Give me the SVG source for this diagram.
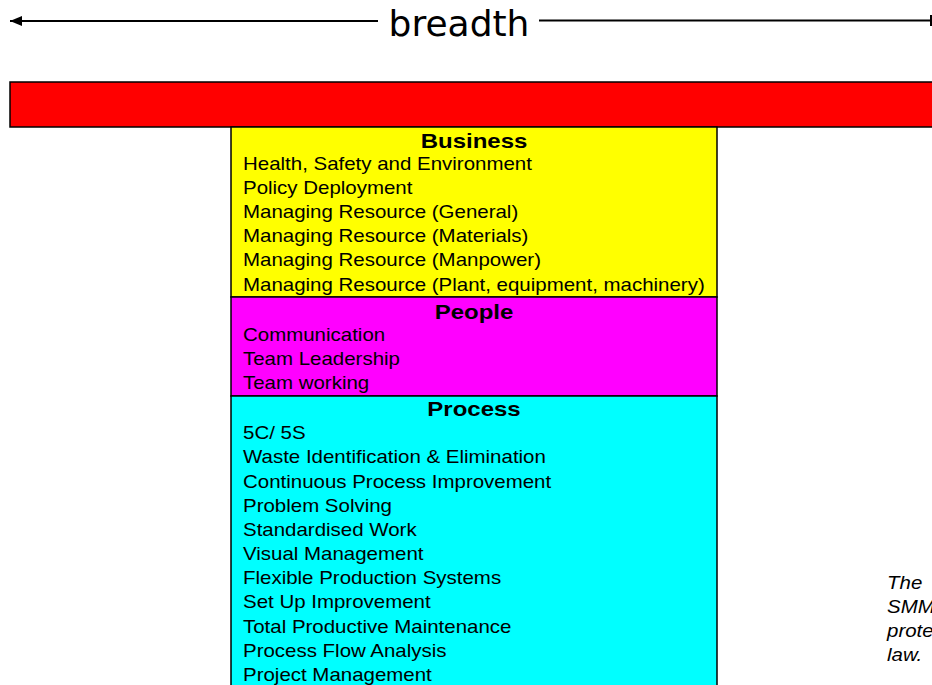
<svg xmlns="http://www.w3.org/2000/svg" width="932" height="685" viewBox="0 0 932 685">
<defs>
<style>
.t{font-family:"Liberation Sans",Arial,sans-serif;font-size:17.5px;fill:#000}
.h{font-family:"Liberation Sans",Arial,sans-serif;font-size:20.5px;font-weight:bold;fill:#000;text-anchor:middle}
.i{font-family:"Liberation Sans",Arial,sans-serif;font-size:17.5px;font-style:italic;fill:#000}
.box{stroke:#000;stroke-width:1.5}
.ln{stroke:#000;stroke-width:2;fill:none}
</style>
<marker id="ah" markerWidth="12" markerHeight="10" refX="0" refY="5" orient="auto" markerUnits="userSpaceOnUse">
<path d="M0,5 L12,0 L12,10 Z" fill="#000"/>
</marker>
</defs>
<rect width="932" height="685" fill="#fff"/>
<g id="connectors">
<line class="ln" x1="10" y1="21" x2="378" y2="21" marker-start="url(#ah)"/>
<line class="ln" x1="539" y1="20.5" x2="932" y2="20.5"/>
<line class="ln" x1="931" y1="15" x2="931" y2="26"/>
</g>
<g id="breadth">
<text x="459" y="36" text-anchor="middle" font-family="DejaVu Sans,Verdana,sans-serif" font-size="36">breadth</text>
</g>
<g id="redbar">
<rect class="box" x="10" y="82" width="930" height="45" fill="#ff0000" stroke="#111"/>
</g>
<g id="business">
<rect class="box" x="231" y="127" width="486" height="170" fill="#ffff00"/>
<text class="h" transform="translate(474 148) scale(1.17 1)">Business</text>
<text class="t" transform="translate(243 170) scale(1.17 1)">Health, Safety and Environment</text>
<text class="t" transform="translate(243 194) scale(1.17 1)">Policy Deployment</text>
<text class="t" transform="translate(243 218) scale(1.17 1)">Managing Resource (General)</text>
<text class="t" transform="translate(243 242) scale(1.17 1)">Managing Resource (Materials)</text>
<text class="t" transform="translate(243 266) scale(1.17 1)">Managing Resource (Manpower)</text>
<text class="t" transform="translate(243 291) scale(1.17 1)">Managing Resource (Plant, equipment, machinery)</text>
</g>
<g id="people">
<rect class="box" x="231" y="297" width="486" height="99" fill="#ff00ff"/>
<text class="h" transform="translate(474 319) scale(1.17 1)">People</text>
<text class="t" transform="translate(243 341) scale(1.17 1)">Communication</text>
<text class="t" transform="translate(243 365) scale(1.17 1)">Team Leadership</text>
<text class="t" transform="translate(243 389) scale(1.17 1)">Team working</text>
</g>
<g id="process">
<rect class="box" x="231" y="396" width="486" height="300" fill="#00ffff"/>
<text class="h" transform="translate(474 416) scale(1.17 1)">Process</text>
<text class="t" transform="translate(243 439) scale(1.17 1)">5C/ 5S</text>
<text class="t" transform="translate(243 463) scale(1.17 1)">Waste Identification &amp; Elimination</text>
<text class="t" transform="translate(243 488) scale(1.17 1)">Continuous Process Improvement</text>
<text class="t" transform="translate(243 512) scale(1.17 1)">Problem Solving</text>
<text class="t" transform="translate(243 536) scale(1.17 1)">Standardised Work</text>
<text class="t" transform="translate(243 560) scale(1.17 1)">Visual Management</text>
<text class="t" transform="translate(243 584) scale(1.17 1)">Flexible Production Systems</text>
<text class="t" transform="translate(243 608) scale(1.17 1)">Set Up Improvement</text>
<text class="t" transform="translate(243 633) scale(1.17 1)">Total Productive Maintenance</text>
<text class="t" transform="translate(243 657) scale(1.17 1)">Process Flow Analysis</text>
<text class="t" transform="translate(243 681) scale(1.17 1)">Project Management</text>
</g>
<g id="note">
<text class="i" transform="translate(887 589) scale(1.17 1)">The</text>
<text class="i" transform="translate(887 613) scale(1.17 1)">SMM</text>
<text class="i" transform="translate(887 637) scale(1.17 1)">prote</text>
<text class="i" transform="translate(887 661) scale(1.17 1)">law.</text>
</g>
</svg>
